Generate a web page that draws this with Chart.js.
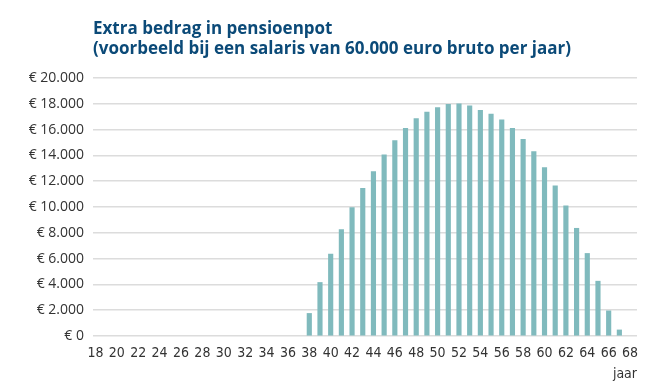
<!DOCTYPE html>
<html>
<head>
<meta charset="utf-8">
<script src="https://cdn.jsdelivr.net/npm/chart.js@4.4.0/dist/chart.umd.min.js"></script>
<style>
    html, body { margin: 0; padding: 0; background: #fff; }
    #wrap { position: relative; width: 662px; height: 383px; }
    #title {
        position: absolute; left: 93px; top: 18px;
        font-family: "Open Sans", sans-serif; font-weight: bold;
        font-size: 17px; line-height: 20px; color: #0b4a78;
    }
    canvas { position: absolute; left: 0; top: 0; }
</style>
</head>
<body>
<div id="wrap">
    <canvas id="pensionChart" width="662" height="383"></canvas>
    <div id="title">Extra bedrag in pensioenpot<br>(voorbeeld bij een salaris van 60.000 euro bruto per jaar)</div>
</div>
<script>
// Leeftijden (jaar) en extra bedrag in de pensioenpot (euro)
const ages = [38, 39, 40, 41, 42, 43, 44, 45, 46, 47, 48, 49, 50, 51, 52,
              53, 54, 55, 56, 57, 58, 59, 60, 61, 62, 63, 64, 65, 66, 67];
const amounts = [1750, 4150, 6350, 8250, 9950, 11450, 12750, 14050, 15150, 16100,
                 16850, 17350, 17700, 17950, 18000, 17850, 17500, 17200, 16750, 16100,
                 15250, 14300, 13050, 11650, 10100, 8350, 6400, 4250, 1950, 470];
const xTickLabels = [18, 20, 22, 24, 26, 28, 30, 32, 34, 36, 38, 40, 42, 44, 46,
                     48, 50, 52, 54, 56, 58, 60, 62, 64, 66, 68];
const yTickValues = [0, 2000, 4000, 6000, 8000, 10000, 12000, 14000, 16000, 18000, 20000];

function euro(value) {
    return '€ ' + String(value).replace(/\B(?=(\d{3})+(?!\d))/g, '.');
}

const tickFont = { family: '"Liberation Sans Narrow", "DejaVu Sans Condensed", sans-serif', size: 14 };
const ctx = document.getElementById('pensionChart');

new Chart(ctx, {
    type: 'bar',
    data: {
        datasets: [{
            data: ages.map(function(age, i) { return { x: age, y: amounts[i] }; }),
            backgroundColor: '#80babd',
            borderWidth: 0,
            barThickness: 4.5
        }]
    },
    options: {
        responsive: false,
        animation: false,
        layout: { padding: { top: 78, right: 25, left: 0, bottom: 0 } },
        plugins: {
            legend: { display: false },
            tooltip: { enabled: false }
        },
        scales: {
            x: {
                type: 'linear',
                offset: false,
                min: 17.77,
                max: 68.65,
                grid: { display: false, drawTicks: false },
                border: { display: false },
                afterBuildTicks: function(scale) {
                    scale.ticks = xTickLabels.map(function(v) { return { value: v }; });
                },
                afterFit: function(scale) { scale.height = 47; },
                ticks: {
                    color: '#333',
                    padding: 9,
                    maxRotation: 0,
                    autoSkip: false,
                    font: tickFont
                },
                title: {
                    display: true,
                    text: 'jaar',
                    align: 'end',
                    color: '#333',
                    padding: { top: -3, bottom: 0 },
                    font: tickFont
                }
            },
            y: {
                min: 0,
                max: 20000,
                grid: { color: '#dcdcdc', lineWidth: 1.5, drawTicks: false },
                border: { display: false },
                afterBuildTicks: function(scale) {
                    scale.ticks = yTickValues.map(function(v) { return { value: v }; });
                },
                afterFit: function(scale) { scale.width = 93; },
                ticks: {
                    color: '#333',
                    padding: 9,
                    font: { family: '"Open Sans", sans-serif', size: 14 },
                    callback: function(value) { return euro(value); }
                }
            }
        }
    }
});
</script>
</body>
</html>
